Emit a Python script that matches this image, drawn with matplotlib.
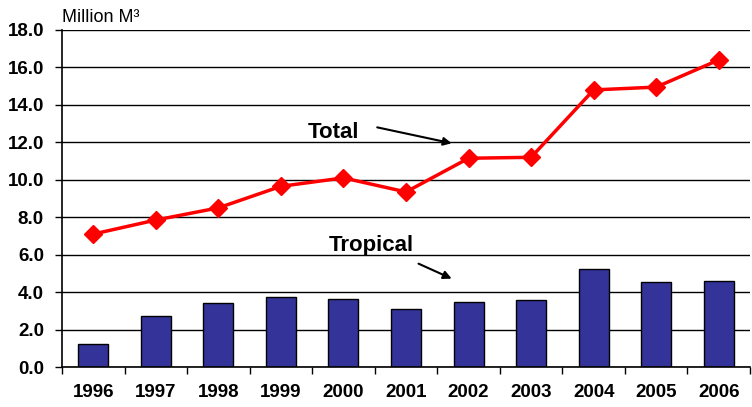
import numpy as np
import matplotlib.pyplot as plt

years = ['1996', '1997', '1998', '1999', '2000', '2001', '2002', '2003', '2004', '2005', '2006']
total = [7.1, 7.85, 8.5, 9.65, 10.1, 9.35, 11.15, 11.2, 14.8, 14.95, 16.4]
tropical = [1.23, 2.72, 3.42, 3.72, 3.62, 3.1, 3.47, 3.56, 5.22, 4.52, 4.58]

plt.rcParams['font.family'] = ['Liberation Sans', 'DejaVu Sans']

fig = plt.figure(figsize=(7.52, 4.07), dpi=100)
ax = fig.add_axes([62 / 752, 40 / 407, 688 / 752, 337 / 407])

x = np.arange(len(years))
ax.bar(x, tropical, width=0.48, color='#333399', edgecolor='black', linewidth=1, zorder=2)
ax.plot(x, total, color='#ff0000', linewidth=2.5, marker='D', markersize=9,
        markerfacecolor='#ff0000', markeredgecolor='#ff0000', zorder=3)

ax.set_xlim(-0.5, len(years) - 0.5)
ax.set_ylim(0, 18)
ax.set_yticks(np.arange(0, 18.1, 2))
ax.set_yticklabels(['%.1f' % v for v in np.arange(0, 18.1, 2)], fontsize=13.5, fontweight='bold')
ax.set_xticks(x)
ax.set_xticklabels(years, fontsize=13.5, fontweight='bold')
ax.set_xticks(np.arange(-0.5, len(years), 1), minor=True)
ax.tick_params(axis='x', which='major', length=0, pad=12)
ax.tick_params(axis='x', which='minor', length=5, width=1, direction='out')
ax.tick_params(axis='y', length=5, width=1, direction='out', pad=8)

ax.grid(axis='y', color='black', linewidth=1, zorder=0)
ax.set_axisbelow(True)
for s in ['top', 'right']:
    ax.spines[s].set_visible(False)
ax.spines['left'].set_linewidth(1.2)
ax.spines['bottom'].set_linewidth(1.2)

ax.annotate('', xy=(5.73, 11.95), xytext=(4.54, 12.8),
            arrowprops=dict(arrowstyle='-|>', color='black', lw=1.5, mutation_scale=12,
                            shrinkA=0, shrinkB=0))
ax.text(3.84, 12.55, 'Total', fontsize=16, fontweight='bold', ha='center', va='center')
ax.annotate('', xy=(5.73, 4.72), xytext=(5.2, 5.52),
            arrowprops=dict(arrowstyle='-|>', color='black', lw=1.5, mutation_scale=12,
                            shrinkA=0, shrinkB=0))
ax.text(4.44, 6.5, 'Tropical', fontsize=16, fontweight='bold', ha='center', va='center')

fig.text(62 / 752, 1 - 17 / 407, 'Million M³', fontsize=13, ha='left', va='center')

fig.savefig('out.png', dpi=100)
